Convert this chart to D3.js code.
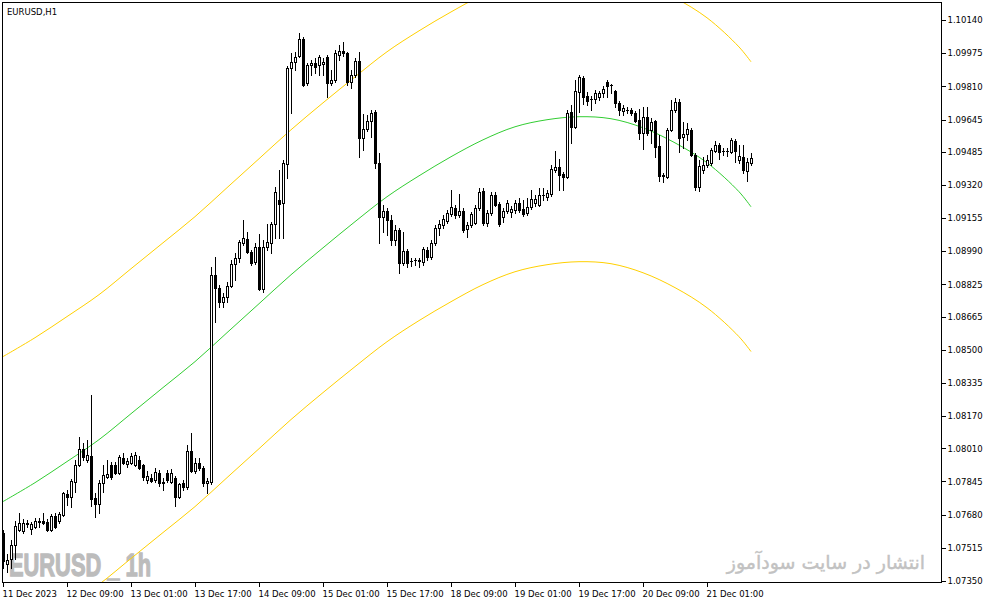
<!DOCTYPE html>
<html>
<head>
<meta charset="utf-8">
<script src="https://cdn.jsdelivr.net/npm/d3@7/dist/d3.min.js"></script>
<style>
  html, body { margin: 0; padding: 0; background: #ffffff; }
  svg { display: block; }
</style>
</head>
<body>
<svg id="chart" width="987" height="605"></svg>
<script>
// ---------- DATA (EURUSD, H1 : 11 Dec 2023 17:00 -> 21 Dec 2023 12:00) ----------
const chartTitle = "EURUSD,H1";
const watermarkText = "EURUSD _ 1h";
const persianText = "انتشار در سایت سودآموز";

const openP = [
1.07591,1.07437,1.07457,1.07531,1.07606,1.07601,1.07631,1.07611,1.07621,1.07641,
1.07646,1.07641,1.07606,1.07675,1.07646,1.07680,1.07785,1.07770,1.07844,1.07929,
1.08004,1.07954,1.07974,1.07765,1.07735,1.07839,1.07869,1.07929,1.07929,1.07889,
1.07964,1.07934,1.07939,1.07929,1.07954,1.07929,1.07854,1.07864,1.07854,1.07889,
1.07835,1.07889,1.07844,1.07864,1.07770,1.07835,1.07815,1.07999,1.07899,1.07939,
1.07914,1.07835,1.07844,1.08873,1.08809,1.08739,1.08764,1.08819,1.08928,1.08958,
1.09032,1.09052,1.08988,1.08938,1.09012,1.08804,1.09012,1.09032,1.09127,1.09246,
1.09231,1.09425,1.09902,1.09932,1.09962,1.10046,1.09827,1.09917,1.09927,1.09917,
1.09922,1.09957,1.09827,1.09842,1.09967,1.09987,1.09977,1.09832,1.09867,1.09937,
1.09554,1.09599,1.09639,1.09683,1.09430,1.09162,1.09191,1.09147,1.09047,1.09097,
1.08933,1.08993,1.08943,1.08948,1.08943,1.08938,1.08998,1.08963,1.09032,1.09107,
1.09122,1.09142,1.09176,1.09206,1.09171,1.09191,1.09102,1.09122,1.09132,1.09206,
1.09291,1.09132,1.09181,1.09271,1.09226,1.09162,1.09191,1.09186,1.09196,1.09231,
1.09201,1.09181,1.09211,1.09231,1.09221,1.09271,1.09261,1.09276,1.09395,1.09410,
1.09375,1.09360,1.09683,1.09609,1.09783,1.09852,1.09763,1.09748,1.09748,1.09758,
1.09778,1.09832,1.09818,1.09788,1.09728,1.09688,1.09693,1.09693,1.09678,1.09644,
1.09579,1.09659,1.09594,1.09639,1.09514,1.09365,1.09360,1.09594,1.09693,1.09733,
1.09559,1.09574,1.09594,1.09470,1.09311,1.09395,1.09420,1.09430,1.09490,1.09519,
1.09490,1.09489,1.09485,1.09539,1.09445,1.09460,1.09390,1.09430];

const highP = [
1.07606,1.07482,1.07556,1.07646,1.07690,1.07656,1.07651,1.07641,1.07661,1.07661,
1.07690,1.07656,1.07685,1.07690,1.07695,1.07795,1.07805,1.07859,1.07954,1.08068,
1.08038,1.08053,1.08277,1.07790,1.07854,1.07929,1.07954,1.07944,1.07944,1.07979,
1.07989,1.07964,1.07989,1.07994,1.07974,1.07934,1.07899,1.07884,1.07914,1.07904,
1.07864,1.07904,1.07909,1.07874,1.07839,1.07854,1.08028,1.08088,1.07964,1.07964,
1.07924,1.07864,1.08913,1.08963,1.08824,1.08784,1.08838,1.08948,1.08983,1.09047,
1.09147,1.09087,1.08998,1.09032,1.09077,1.09047,1.09127,1.09137,1.09311,1.09395,
1.09445,1.09912,1.09977,1.09982,1.10076,1.10056,1.09927,1.09942,1.09952,1.09967,
1.09952,1.09967,1.09892,1.09992,1.10016,1.10031,1.09982,1.09892,1.09952,1.09982,
1.09673,1.09668,1.09693,1.09693,1.09480,1.09221,1.09206,1.09171,1.09122,1.09107,
1.09087,1.09002,1.08958,1.08958,1.08958,1.09012,1.09012,1.09047,1.09122,1.09147,
1.09171,1.09196,1.09296,1.09221,1.09276,1.09206,1.09137,1.09186,1.09221,1.09306,
1.09306,1.09196,1.09286,1.09286,1.09236,1.09206,1.09246,1.09216,1.09246,1.09256,
1.09246,1.09256,1.09296,1.09271,1.09306,1.09306,1.09296,1.09420,1.09490,1.09450,
1.09385,1.09693,1.09718,1.09842,1.09867,1.09862,1.09783,1.09763,1.09793,1.09788,
1.09813,1.09842,1.09823,1.09793,1.09738,1.09718,1.09708,1.09703,1.09688,1.09698,
1.09708,1.09708,1.09654,1.09644,1.09569,1.09380,1.09604,1.09743,1.09753,1.09748,
1.09634,1.09629,1.09604,1.09480,1.09445,1.09460,1.09470,1.09504,1.09539,1.09529,
1.09504,1.09504,1.09554,1.09549,1.09519,1.09519,1.09455,1.09480];

const lowP = [
1.07417,1.07397,1.07417,1.07457,1.07601,1.07591,1.07621,1.07586,1.07616,1.07621,
1.07631,1.07601,1.07601,1.07616,1.07636,1.07675,1.07730,1.07720,1.07795,1.07924,
1.07954,1.07944,1.07725,1.07666,1.07690,1.07795,1.07864,1.07859,1.07884,1.07884,
1.07934,1.07919,1.07934,1.07924,1.07909,1.07854,1.07839,1.07844,1.07844,1.07820,
1.07805,1.07844,1.07835,1.07725,1.07765,1.07805,1.07810,1.07894,1.07889,1.07904,
1.07820,1.07790,1.07830,1.08640,1.08714,1.08714,1.08739,1.08814,1.08848,1.08938,
1.09022,1.08983,1.08923,1.08928,1.08799,1.08789,1.08998,1.08983,1.09057,1.09057,
1.09057,1.09355,1.09678,1.09892,1.09957,1.09813,1.09818,1.09867,1.09877,1.09867,
1.09867,1.09758,1.09818,1.09832,1.09942,1.09962,1.09818,1.09803,1.09857,1.09460,
1.09495,1.09589,1.09559,1.09405,1.09032,1.09087,1.09072,1.09022,1.09022,1.08883,
1.08923,1.08913,1.08918,1.08923,1.08913,1.08923,1.08948,1.08953,1.09022,1.09072,
1.09107,1.09132,1.09166,1.09157,1.09162,1.09087,1.09062,1.09112,1.09127,1.09196,
1.09122,1.09117,1.09171,1.09216,1.09117,1.09137,1.09181,1.09162,1.09181,1.09186,
1.09166,1.09171,1.09201,1.09216,1.09216,1.09246,1.09246,1.09266,1.09385,1.09296,
1.09296,1.09355,1.09529,1.09604,1.09683,1.09723,1.09718,1.09693,1.09728,1.09743,
1.09758,1.09758,1.09778,1.09708,1.09668,1.09668,1.09678,1.09668,1.09634,1.09549,
1.09499,1.09569,1.09529,1.09460,1.09340,1.09335,1.09355,1.09589,1.09683,1.09485,
1.09504,1.09544,1.09465,1.09296,1.09291,1.09380,1.09410,1.09420,1.09485,1.09450,
1.09470,1.09465,1.09480,1.09435,1.09430,1.09380,1.09340,1.09420];

const closeP = [
1.07447,1.07452,1.07531,1.07626,1.07636,1.07636,1.07636,1.07631,1.07646,1.07646,
1.07636,1.07606,1.07675,1.07621,1.07685,1.07790,1.07770,1.07849,1.07929,1.08004,
1.07969,1.07979,1.07760,1.07735,1.07835,1.07879,1.07884,1.07869,1.07889,1.07969,
1.07939,1.07949,1.07974,1.07979,1.07914,1.07869,1.07874,1.07849,1.07894,1.07839,
1.07844,1.07854,1.07889,1.07770,1.07830,1.07815,1.07999,1.07899,1.07939,1.07914,
1.07835,1.07849,1.08873,1.08809,1.08739,1.08764,1.08819,1.08928,1.08958,1.09037,
1.09057,1.08988,1.08933,1.09012,1.08804,1.09012,1.09037,1.09127,1.09286,1.09226,
1.09430,1.09902,1.09932,1.09957,1.10046,1.09818,1.09917,1.09927,1.09907,1.09957,
1.09932,1.09827,1.09842,1.09977,1.09987,1.09977,1.09832,1.09867,1.09937,1.09554,
1.09599,1.09639,1.09678,1.09430,1.09162,1.09191,1.09147,1.09047,1.09097,1.08933,
1.08993,1.08933,1.08942,1.08947,1.08944,1.09002,1.08963,1.09032,1.09107,1.09127,
1.09152,1.09181,1.09211,1.09171,1.09191,1.09097,1.09122,1.09176,1.09206,1.09286,
1.09132,1.09181,1.09271,1.09221,1.09127,1.09191,1.09231,1.09201,1.09231,1.09196,
1.09176,1.09211,1.09251,1.09251,1.09271,1.09272,1.09281,1.09400,1.09410,1.09370,
1.09360,1.09678,1.09609,1.09788,1.09857,1.09758,1.09738,1.09747,1.09778,1.09778,
1.09798,1.09813,1.09817,1.09728,1.09693,1.09703,1.09692,1.09678,1.09639,1.09579,
1.09659,1.09579,1.09634,1.09509,1.09365,1.09370,1.09594,1.09693,1.09733,1.09554,
1.09574,1.09599,1.09470,1.09311,1.09415,1.09420,1.09445,1.09495,1.09519,1.09485,
1.09489,1.09490,1.09544,1.09490,1.09465,1.09395,1.09435,1.09455];

// Channel indicator (middle line + upper / lower bands), read at these bar indices
const bandIndex = [0,8,16,24,32,40,48,56,64,72,80,88,96,104,112,120,128,136,144,152,160,168,176,184,187];
const midBand = [1.07745,1.07839,1.07944,1.08053,1.08182,1.08312,1.08441,1.08585,1.08729,1.08873,1.09007,1.09137,1.09261,1.09365,1.09460,1.09544,1.09609,1.09644,1.09659,1.09649,1.09604,1.09529,1.09430,1.09286,1.09211];
const upperBand = [1.08466,1.08560,1.08665,1.08774,1.08903,1.09032,1.09162,1.09306,1.09450,1.09594,1.09728,1.09857,1.09982,1.10086,1.10180,1.10265,1.10329,1.10364,1.10379,1.10369,1.10324,1.10250,1.10151,1.10006,1.09932];
const lowerBand = [1.07024,1.07119,1.07223,1.07333,1.07462,1.07591,1.07720,1.07864,1.08008,1.08153,1.08287,1.08416,1.08540,1.08645,1.08739,1.08824,1.08888,1.08923,1.08938,1.08928,1.08883,1.08809,1.08709,1.08565,1.08491];

// Axis ticks
const yTickLabels = ["1.10140","1.09975","1.09810","1.09645","1.09485","1.09320","1.09155","1.08990","1.08825","1.08665","1.08500","1.08335","1.08170","1.08010","1.07845","1.07680","1.07515","1.07350"];
const xTickIndex = [0,16,32,48,64,80,96,112,128,144,160,176];
const xTickLabels = ["11 Dec 2023","12 Dec 09:00","13 Dec 01:00","13 Dec 17:00","14 Dec 09:00","15 Dec 01:00","15 Dec 17:00","18 Dec 09:00","19 Dec 01:00","19 Dec 17:00","20 Dec 09:00","21 Dec 01:00"];

// ---------- LAYOUT ----------
const W = 987, H = 605;
const frame = { left: 3, top: 3, right: 942, bottom: 583 };
const barStep = 4;
const N = Math.min(openP.length, highP.length, lowP.length, closeP.length);

const svg = d3.select("#chart");
svg.append("rect").attr("width", W).attr("height", H).attr("fill", "#ffffff");

const x = d3.scaleLinear().domain([0, N - 1]).range([frame.left, frame.left + barStep * (N - 1)]);
const y = d3.scaleLinear().domain([1.07350, 1.10140]).range([581, 20]);

svg.append("defs").append("clipPath").attr("id", "plotClip")
  .append("rect").attr("x", frame.left).attr("y", frame.top)
  .attr("width", frame.right - frame.left).attr("height", frame.bottom - frame.top);

// watermark texts (behind everything)
svg.append("text")
  .attr("x", 9).attr("y", 576)
  .attr("font-family", "Liberation Sans, Arial, sans-serif")
  .attr("font-weight", "bold").attr("font-size", 31)
  .attr("textLength", 142).attr("lengthAdjust", "spacingAndGlyphs")
  .attr("fill", "#bcbcbc").attr("stroke", "#bcbcbc").attr("stroke-width", 1.3)
  .text(watermarkText);

svg.append("text")
  .attr("x", 925).attr("y", 569)
  .attr("text-anchor", "end")
  .attr("font-family", "DejaVu Sans, sans-serif")
  .attr("font-size", 19)
  .attr("fill", "#c2c2c2").attr("stroke", "#c2c2c2").attr("stroke-width", 0.4)
  .text(persianText);

const plot = svg.append("g").attr("clip-path", "url(#plotClip)");

// indicator lines
function bandLine(values) {
  return d3.line()
    .x((d, i) => x(bandIndex[i]))
    .y(d => y(d))
    .curve(d3.curveCatmullRom.alpha(0.5))(values);
}
plot.append("path").attr("d", bandLine(upperBand)).attr("fill", "none").attr("stroke", "#ffd000").attr("stroke-width", 1);
plot.append("path").attr("d", bandLine(lowerBand)).attr("fill", "none").attr("stroke", "#ffd000").attr("stroke-width", 1);
plot.append("path").attr("d", bandLine(midBand)).attr("fill", "none").attr("stroke", "#32cd32").attr("stroke-width", 1);

// candles
const bars = d3.range(N).map(i => ({ i, o: openP[i], h: highP[i], l: lowP[i], c: closeP[i] }));
const cg = plot.append("g").attr("shape-rendering", "crispEdges");

cg.selectAll("line.wick").data(bars).join("line")
  .attr("class", "wick")
  .attr("x1", d => Math.round(x(d.i)) + 0.5)
  .attr("x2", d => Math.round(x(d.i)) + 0.5)
  .attr("y1", d => Math.round(y(d.h)))
  .attr("y2", d => Math.round(y(d.l)) + 1)
  .attr("stroke", "#000");

bars.forEach(d => {
  const cx = Math.round(x(d.i));
  const top = Math.round(y(Math.max(d.o, d.c)));
  const bot = Math.round(y(Math.min(d.o, d.c)));
  if (bot - top < 1) {
    cg.append("line")
      .attr("x1", cx - 1).attr("x2", cx + 2)
      .attr("y1", top + 0.5).attr("y2", top + 0.5)
      .attr("stroke", "#000");
  } else {
    cg.append("rect")
      .attr("x", cx - 0.5).attr("y", top + 0.5)
      .attr("width", 2).attr("height", bot - top)
      .attr("fill", d.c >= d.o ? "#ffffff" : "#000000")
      .attr("stroke", "#000");
  }
});

// frame
svg.append("rect")
  .attr("x", frame.left - 0.5).attr("y", frame.top - 0.5)
  .attr("width", frame.right - frame.left).attr("height", frame.bottom - frame.top)
  .attr("fill", "none").attr("stroke", "#000").attr("shape-rendering", "crispEdges");

// right price axis
const yAxis = d3.axisRight(y)
  .tickValues(yTickLabels.map(Number))
  .tickFormat((d, i) => yTickLabels[i])
  .tickSize(4).tickPadding(2);
const gy = svg.append("g").attr("transform", `translate(${frame.right - 0.5},0)`).call(yAxis);
gy.select(".domain").remove();
gy.selectAll("line").attr("stroke", "#000").attr("shape-rendering", "crispEdges");
gy.selectAll("text").attr("font-family", "DejaVu Sans, sans-serif").attr("font-size", 8.5).attr("fill", "#000");

// bottom time axis
const xAxis = d3.axisBottom(x)
  .tickValues(xTickIndex)
  .tickFormat((d, i) => xTickLabels[i])
  .tickSize(4).tickPadding(4);
const gx = svg.append("g").attr("transform", `translate(0,${frame.bottom - 0.5})`).call(xAxis);
gx.select(".domain").remove();
gx.selectAll("line").attr("stroke", "#000").attr("shape-rendering", "crispEdges");
gx.selectAll("text").attr("text-anchor", "start").attr("x", -1)
  .attr("font-family", "DejaVu Sans, sans-serif").attr("font-size", 8.5).attr("fill", "#000");

// title
svg.append("text")
  .attr("x", 7).attr("y", 15)
  .attr("font-family", "DejaVu Sans, sans-serif").attr("font-size", 8.5)
  .attr("fill", "#000")
  .text(chartTitle);
</script>
</body>
</html>
